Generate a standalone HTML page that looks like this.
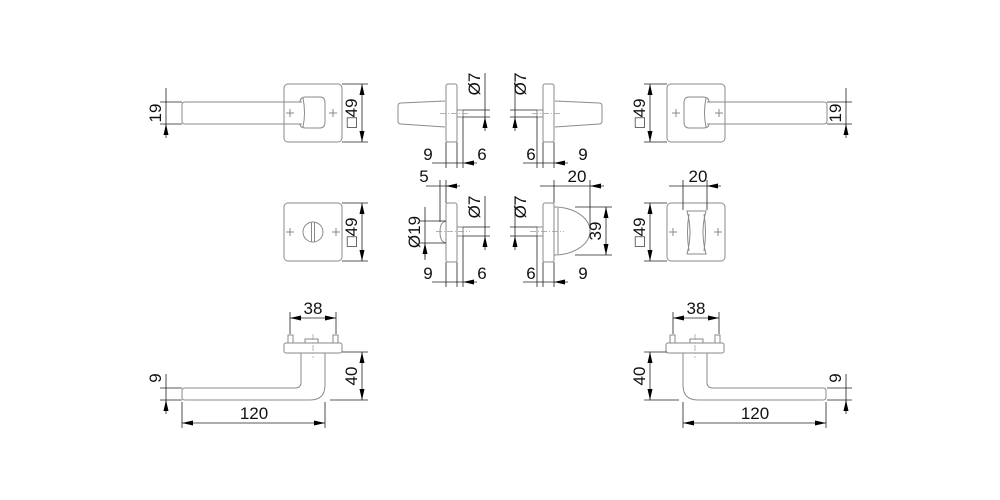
<!DOCTYPE html>
<html><head><meta charset="utf-8"><style>
html,body{margin:0;padding:0;background:#fff}
svg{display:block}
text{font-family:"Liberation Sans","DejaVu Sans",sans-serif;font-size:17px;fill:#111}
.o{fill:none;stroke:#8a8a8a;stroke-width:1}
.d{fill:none;stroke:#222;stroke-width:0.8}
.c{fill:none;stroke:#999;stroke-width:0.7;stroke-dasharray:6 2 1 2}
</style></head><body>
<svg width="1000" height="500" viewBox="0 0 1000 500" xmlns="http://www.w3.org/2000/svg">
<defs>
<marker id="a" viewBox="0 0 11 5" refX="11" refY="2.5" markerWidth="11" markerHeight="5" markerUnits="userSpaceOnUse" orient="auto-start-reverse"><path d="M0,0L11,2.5L0,5z" fill="#000"/></marker>
<g id="lever">
 <rect class="o" x="284" y="84" width="58" height="58" rx="4"/>
 <path class="o" d="M302,102 H185 Q182,102 182,105 V121 Q182,124 185,124 H302"/>
 <path class="o" d="M300,102 Q300,97 306,97 H320 Q325,97 325,103 V122 Q325,128 320,128 H306 Q300,128 300,124"/>
 <path class="o" d="M303,98 Q306,113 303,127"/>
 <path class="o" d="M286,113h8M290,109v8M329,113h8M333,109v8"/>
 <g id="side">
  <path class="o" d="M445,101 L401,103 Q398,103 398,106 V121 Q398,124 401,124 L445,127"/>
  <rect class="o" x="446" y="84" width="11" height="58" rx="2"/>
  <rect class="o" x="457" y="110" width="6" height="7"/>
  <path class="c" d="M440,113.5H470"/>
 </g>
 <g id="bl">
  <rect class="o" x="284" y="343" width="58" height="10" rx="2"/>
  <rect class="o" x="288" y="335" width="5" height="8"/>
  <rect class="o" x="333" y="335" width="5" height="8"/>
  <rect class="o" x="305" y="339" width="13" height="4"/>
  <path class="c" d="M313,334V358"/>
  <path class="o" d="M325,353 V385 Q325,400 310,400 H185 Q182,400 182,397 V391 Q182,388 185,388 H295 Q301,388 301,382 V353"/>
 </g>
</g>
</defs>

<use href="#lever"/>
<g transform="translate(1009,0) scale(-1,1)">
 <rect class="o" x="284" y="84" width="58" height="58" rx="4"/>
 <path class="o" d="M302,102 H185 Q182,102 182,105 V121 Q182,124 185,124 H302"/>
 <path class="o" d="M300,102 Q300,97 306,97 H320 Q325,97 325,103 V122 Q325,128 320,128 H306 Q300,128 300,124"/>
 <path class="o" d="M303,98 Q306,113 303,127"/>
 <path class="o" d="M286,113h8M290,109v8M329,113h8M333,109v8"/>
 <g transform="translate(1,0)"><use href="#bl"/></g>
</g>
<g transform="translate(1000,0) scale(-1,1)"><use href="#side"/></g>

<rect class="o" x="284" y="203" width="58" height="58" rx="4"/>
<circle class="o" cx="313" cy="232" r="10"/>
<path class="o" d="M311.5,222V242M314.5,222V242M286,232h8M290,228v8M332,232h8M336,228v8"/>
<rect class="o" x="667" y="203" width="58" height="58" rx="4"/>
<path class="o" d="M687,211 H706 Q700,232 706,254 H687 Q693,232 687,211Z"/>
<path class="o" d="M689,214 Q686,232 689,251M704,214 Q707,232 704,251"/>
<path class="o" d="M669,232h8M673,228v8M714,232h8M718,228v8"/>

<rect class="o" x="446" y="203" width="11" height="59" rx="2"/>
<path class="o" d="M446,221 Q440,222 440,232 Q440,242 446,243"/>
<rect class="o" x="457" y="227" width="6" height="9"/>
<path class="c" d="M436,231.5H470"/>
<rect class="o" x="543" y="203" width="11" height="59" rx="2"/>
<path class="o" d="M554,207 A36,24 0 0 1 554,255"/>
<path class="o" d="M558,208V254"/>
<rect class="o" x="537" y="227" width="6" height="9"/>
<path class="c" d="M530,231.5H564"/>

<g class="d">
<path d="M160,102H182M160,124H182M166,102V124"/>
<path d="M166,88V102M166,138V124" marker-end="url(#a)"/>
<path d="M342,84H368M342,142H368"/>
<path d="M362,84V142" marker-start="url(#a)" marker-end="url(#a)"/>
<path d="M827,102H852M827,124H852M846,102V124"/>
<path d="M846,88V102M846,138V124" marker-end="url(#a)"/>
<path d="M644,84H667M644,142H667"/>
<path d="M650,84V142" marker-start="url(#a)" marker-end="url(#a)"/>
<path d="M342,203H368M342,261H368"/>
<path d="M362,203V261" marker-start="url(#a)" marker-end="url(#a)"/>
<path d="M644,203H667M644,261H667"/>
<path d="M650,203V261" marker-start="url(#a)" marker-end="url(#a)"/>
<path d="M683,180V210M707,180V210M683,186H707"/>
<path d="M669,186H683M721,186H707" marker-end="url(#a)"/>

<path d="M463,110H490M463,117H490M485,73V96M485,110V117"/>
<path d="M485,96V110M485,131V117" marker-end="url(#a)"/>
<path d="M446,142V168M457,142V168M463,117V168M446,163H463"/>
<path d="M432,163H446M477,163H463" marker-end="url(#a)"/>
<path d="M510,110H537M510,117H537M515,73V96M515,110V117"/>
<path d="M515,96V110M515,131V117" marker-end="url(#a)"/>
<path d="M554,142V168M543,142V168M537,117V168M537,163H554"/>
<path d="M523,163H537M568,163H554" marker-end="url(#a)"/>
<path d="M463,227H490M463,236H490M485,196V213M485,227V236"/>
<path d="M485,213V227M485,250V236" marker-end="url(#a)"/>
<path d="M446,262V287M457,262V287M463,236V287M446,282H463"/>
<path d="M432,282H446M477,282H463" marker-end="url(#a)"/>
<path d="M440,180V222M446,180V203M440,186H446"/>
<path d="M426,186H440M460,186H446" marker-end="url(#a)"/>
<path d="M420,221H446M420,243H446M425,221V243M425,248V260"/>
<path d="M425,207V221M425,257V243" marker-end="url(#a)"/>
<path d="M510,227H537M510,236H537M515,196V213M515,227V236"/>
<path d="M515,213V227M515,250V236" marker-end="url(#a)"/>
<path d="M554,262V287M543,262V287M537,236V287M537,282H554"/>
<path d="M523,282H537M568,282H554" marker-end="url(#a)"/>
<path d="M554,180V203M590,180V228M554,186H590"/>
<path d="M540,186H554M604,186H590" marker-end="url(#a)"/>
<path d="M575,207H612M575,255H612"/>
<path d="M606,207V255" marker-start="url(#a)" marker-end="url(#a)"/>

<path d="M290,312V334M336,312V334"/>
<path d="M290,318H336" marker-start="url(#a)" marker-end="url(#a)"/>
<path d="M342,352H368M330,400H368"/>
<path d="M362,352V400" marker-start="url(#a)" marker-end="url(#a)"/>
<path d="M160,388H182M160,400H182M166,388V400"/>
<path d="M166,374V388M166,414V400" marker-end="url(#a)"/>
<path d="M182,402V428M325,402V428"/>
<path d="M182,423H325" marker-start="url(#a)" marker-end="url(#a)"/>
<path d="M673,312V334M719,312V334"/>
<path d="M673,318H719" marker-start="url(#a)" marker-end="url(#a)"/>
<path d="M644,352H667M644,400H679"/>
<path d="M650,352V400" marker-start="url(#a)" marker-end="url(#a)"/>
<path d="M827,388H852M827,400H852M846,388V400"/>
<path d="M846,374V388M846,414V400" marker-end="url(#a)"/>
<path d="M683,402V428M826,402V428"/>
<path d="M683,423H826" marker-start="url(#a)" marker-end="url(#a)"/>
</g>

<g text-anchor="middle">
<text transform="translate(161,113) rotate(-90)">19</text>
<text transform="translate(357,113) rotate(-90)">□49</text>
<text transform="translate(841,113) rotate(-90)">19</text>
<text transform="translate(645,113) rotate(-90)">□49</text>
<text transform="translate(357,232) rotate(-90)">□49</text>
<text transform="translate(645,232) rotate(-90)">□49</text>
<text x="698" y="182">20</text>
<text transform="translate(480,84) rotate(-90)">Ø7</text>
<text transform="translate(526,84) rotate(-90)">Ø7</text>
<text transform="translate(480,207) rotate(-90)">Ø7</text>
<text transform="translate(526,207) rotate(-90)">Ø7</text>
<text x="428" y="160">9</text>
<text x="482" y="160">6</text>
<text x="531" y="160">6</text>
<text x="583" y="160">9</text>
<text x="428" y="279">9</text>
<text x="482" y="279">6</text>
<text x="531" y="279">6</text>
<text x="583" y="279">9</text>
<text x="424" y="182">5</text>
<text x="577" y="182">20</text>
<text transform="translate(420,232) rotate(-90)">Ø19</text>
<text transform="translate(601,231) rotate(-90)">39</text>
<text x="313" y="314">38</text>
<text x="696" y="314">38</text>
<text transform="translate(357,376) rotate(-90)">40</text>
<text transform="translate(645,376) rotate(-90)">40</text>
<text transform="translate(161,378) rotate(-90)">9</text>
<text transform="translate(841,378) rotate(-90)">9</text>
<text x="254" y="419">120</text>
<text x="755" y="419">120</text>
</g>
</svg>
</body></html>
